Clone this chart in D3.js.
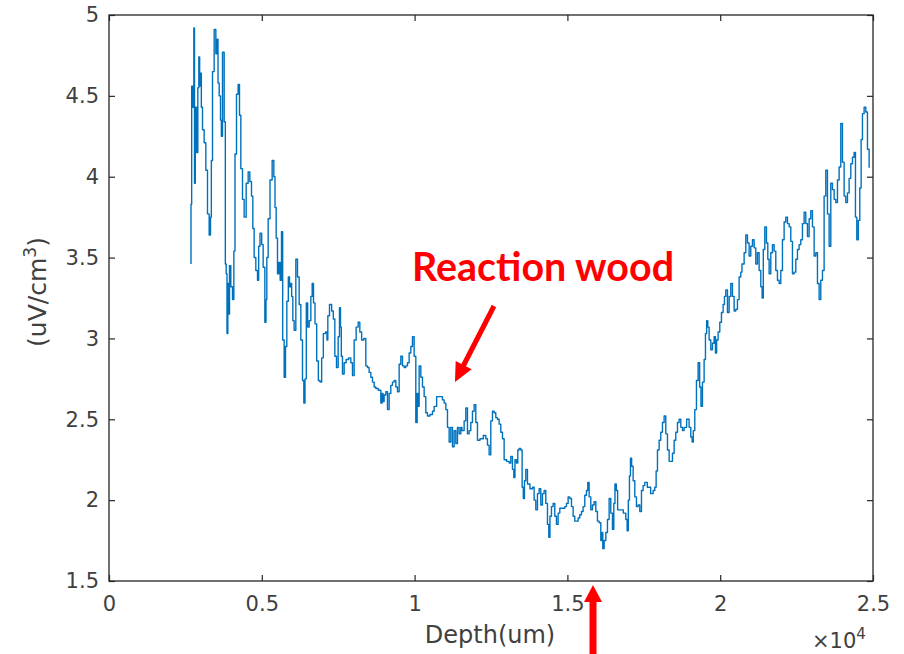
<!DOCTYPE html>
<html><head><meta charset="utf-8">
<script src="https://cdn.jsdelivr.net/npm/d3@7"></script>
<style>body{margin:0;background:#fff}svg{display:block}</style>
</head><body>
<svg id="c" width="904" height="654"></svg>
<script>
// Depth in um
const depth = [
2683,2683,2727,2760,2792,2803,2847,2890,2923,2956,2978,3011,3032,3087,3141,3196,3250,3305,3338,3360,
3414,3469,3523,3556,3578,3632,3665,3687,3741,3796,3818,3850,3872,3905,3927,3959,4014,4069,4101,4145,
4199,4253,4287,4341,4396,4450,4527,4581,4636,4690,4723,4777,4832,4887,4908,4974,5017,5072,5127,5148,
5181,5236,5301,5377,5410,5454,5487,5541,5574,5628,5661,5705,5759,5792,5846,5890,5923,5955,5999,6032,
6086,6141,6195,6250,6304,6359,6392,6435,6479,6523,6577,6632,6665,6719,6763,6828,6872,6937,6981,7046,
7122,7144,7177,7253,7318,7362,7417,7471,7526,7558,7591,7613,7667,7722,7798,7886,7940,7995,8049,8126,
8180,8235,8300,8376,8431,8486,8540,8595,8649,8704,8758,8867,8922,8955,8976,9031,9085,9140,9194,9249,
9303,9358,9413,9467,9522,9576,9631,9685,9740,9794,9849,9903,9958,10012,10067,10100,10122,10176,10231,10285,
10340,10394,10449,10558,10612,10667,10776,10885,10940,10994,11049,11103,11158,11212,11267,11321,11376,11430,
11485,11539,11561,11594,11648,11703,11757,11812,11866,11921,11975,12030,12084,12194,12303,12357,12412,12466,12521,12575,
12630,12684,12739,12793,12848,12903,12957,13066,13121,13175,13230,13262,13306,13361,13393,13448,13502,13535,13579,13611,
13666,13720,13830,13884,13939,13993,14048,14102,14157,14211,14266,14320,14375,14408,14451,14506,14560,14615,14669,14724,
14779,14888,14942,14997,15051,15106,15160,15215,15269,15324,15378,15433,15487,15542,15597,15651,15684,15738,15793,15847,
15902,15956,16011,
16066,16120,16142,16175,16229,16284,16338,16393,16447,16502,16535,16578,16622,16665,16775,16884,16938,16971,17014,17047,
17080,17124,17178,17233,17287,17342,17396,17451,17505,17560,17669,17778,17833,17887,17920,17974,18029,18083,18138,18192,
18247,18302,18356,18411,18465,18520,18574,18629,18683,18738,18792,18847,18956,19010,19065,19098,19141,19196,19250,19305,
19349,19392,19447,19501,19534,19578,19610,19665,19719,19774,19829,19861,19905,19959,20014,20068,20123,20156,20210,20265,
20319,20374,20428,20483,20537,20592,20646,
20701,20723,20756,20810,20865,20919,20974,21028,21083,21137,21192,21246,21301,21356,21388,21432,21486,21541,21574,21628,
21683,21737,21792,21846,21901,21955,22010,22064,22119,22174,22228,22283,22337,22392,22446,22501,22555,22610,22664,22719,
22773,22828,22883,22937,22992,23046,23101,23155,23210,23264,23319,23373,23428,23482,23537,23592,23646,23701,23755,23810,
23864,23919,23973,24028,24082,24137,24191,24246,24301,24355,24410,24442,24497,24540,24595,24628,24682,24737,24791,24846,
24900
];
// Signal in uV/cm^3
const signal = [
3.46,3.83,4.56,4.43,4.92,3.96,4.43,4.15,4.55,4.74,4.56,4.64,4.43,4.29,4.21,4.04,3.77,3.64,3.75,4.10,
4.65,4.91,4.76,4.85,4.58,4.50,4.35,4.25,4.77,4.34,3.46,3.40,3.03,3.34,3.15,3.45,3.32,3.24,3.54,4.14,
4.51,4.57,4.38,4.05,3.86,3.75,3.96,4.03,3.97,3.88,3.68,3.50,3.42,3.36,3.57,3.65,3.58,3.44,3.10,3.24,
3.50,3.74,3.98,4.10,4.00,3.81,3.62,3.40,3.47,3.36,3.66,2.99,2.76,2.95,3.23,3.38,3.32,3.34,3.26,3.11,
3.05,3.49,3.38,3.21,2.99,2.74,2.60,2.75,3.22,3.07,3.11,3.26,3.34,3.22,3.09,2.86,2.74,2.73,2.88,3.03,
3.04,2.99,3.14,3.21,3.17,3.12,2.89,2.82,3.01,3.19,3.07,2.89,2.78,2.85,2.87,2.88,2.85,2.77,2.99,3.07,
3.10,3.04,2.99,3.00,2.83,2.82,2.79,2.76,2.73,2.70,2.69,2.68,2.60,2.66,2.61,2.65,2.67,2.56,2.66,2.71,
2.73,2.74,2.70,2.67,2.84,2.89,2.83,2.82,2.83,2.85,2.91,2.95,3.01,2.89,2.48,2.66,2.58,2.83,2.76,2.70,
2.64,2.54,2.52,2.53,2.55,2.58,2.64,2.64,2.62,2.60,2.56,2.45,2.36,2.45,2.33,2.43,2.35,2.45,
2.41,2.45,2.43,2.43,2.49,2.57,2.41,2.43,2.48,2.55,2.59,2.48,2.37,2.38,2.40,2.38,2.34,2.28,2.49,2.55,
2.54,2.51,2.50,2.47,2.42,2.38,2.25,2.24,2.23,2.27,2.19,2.14,2.25,2.23,2.31,2.32,2.31,2.08,2.01,2.12,
2.19,2.10,2.07,2.08,2.00,1.94,2.04,2.07,1.97,2.04,2.06,1.98,1.85,1.77,1.90,1.96,1.98,1.90,1.85,1.92,
1.95,1.95,1.96,1.98,2.02,2.01,1.96,1.90,1.87,1.87,1.89,1.91,1.93,1.96,2.03,2.06,2.11,2.02,1.94,1.97,
1.99,1.93,1.87,
1.86,1.75,1.80,1.70,1.75,1.80,1.88,2.01,1.92,1.82,1.98,2.10,2.06,1.94,1.94,1.92,1.88,1.81,2.00,2.15,
2.26,2.21,2.12,2.02,1.96,1.97,1.93,2.06,2.09,2.11,2.08,2.04,2.06,2.08,2.18,2.31,2.37,2.42,2.48,2.52,
2.41,2.31,2.24,2.24,2.29,2.37,2.42,2.48,2.50,2.45,2.43,2.45,2.50,2.45,2.39,2.36,2.43,2.56,2.74,2.85,
2.70,2.58,2.73,2.87,3.03,3.11,3.07,2.99,2.93,2.97,3.01,2.91,2.99,3.04,3.10,3.16,3.21,3.26,3.30,3.16,
3.26,3.34,3.26,3.17,3.18,3.24,3.38,
3.41,3.46,3.46,3.53,3.64,3.59,3.51,3.57,3.61,3.56,3.46,3.53,3.42,3.32,3.25,3.55,3.69,3.59,3.49,3.40,
3.53,3.58,3.54,3.42,3.36,3.34,3.42,3.61,3.72,3.75,3.71,3.69,3.60,3.40,3.41,3.49,3.55,3.58,3.61,3.71,
3.78,3.71,3.63,3.74,3.79,3.69,3.51,3.53,3.34,3.24,3.36,3.42,3.88,4.04,3.77,3.57,3.96,3.92,3.86,3.84,
3.98,4.06,4.33,4.09,3.88,3.84,3.90,3.99,4.08,4.12,4.15,3.75,3.61,3.73,3.93,4.23,4.39,4.43,4.40,4.17,
4.06
];
const xTicks = [0, 5000, 10000, 15000, 20000, 25000];
const xTickLabels = ["0", "0.5", "1", "1.5", "2", "2.5"];
const yTicks = [1.5, 2, 2.5, 3, 3.5, 4, 4.5, 5];
const yTickLabels = ["1.5", "2", "2.5", "3", "3.5", "4", "4.5", "5"];
const xLabel = "Depth(um)";
const annotationText = "Reaction wood";

const svg = d3.select("#c");
const L = 109, R = 873, T = 15, B = 581;
const x = d3.scaleLinear().domain([0, 25000]).range([L, R]);
const y = d3.scaleLinear().domain([1.5, 5]).range([B, T]);

const axisColor = "#262626", textColor = "#404040";
const font = "'DejaVu Sans', sans-serif";

function styleAxis(g, showText) {
  g.select(".domain").remove();
  g.selectAll(".tick line").attr("stroke", axisColor).attr("stroke-width", 1.2);
  g.selectAll(".tick text").attr("fill", textColor).style("font-family", font).style("font-size", "21px");
  if (!showText) g.selectAll(".tick text").remove();
}

svg.append("g").attr("transform", `translate(0,${B})`)
  .call(d3.axisBottom(x).tickValues(xTicks).tickFormat((d, i) => xTickLabels[i]).tickSizeInner(-6).tickSizeOuter(0).tickPadding(15))
  .call(g => styleAxis(g, true));
svg.append("g").attr("transform", `translate(0,${T})`)
  .call(d3.axisTop(x).tickValues(xTicks).tickSizeInner(-6).tickSizeOuter(0))
  .call(g => styleAxis(g, false));
svg.append("g").attr("transform", `translate(${L},0)`)
  .call(d3.axisLeft(y).tickValues(yTicks).tickFormat((d, i) => yTickLabels[i]).tickSizeInner(-6).tickSizeOuter(0).tickPadding(10))
  .call(g => styleAxis(g, true));
svg.append("g").attr("transform", `translate(${R},0)`)
  .call(d3.axisRight(y).tickValues(yTicks).tickSizeInner(-6).tickSizeOuter(0))
  .call(g => styleAxis(g, false));

svg.append("rect").attr("x", L).attr("y", T).attr("width", R - L).attr("height", B - T)
  .attr("fill", "none").attr("stroke", axisColor).attr("stroke-width", 1.3);

// data line
const pts = d3.range(Math.min(depth.length, signal.length)).map(i => [depth[i], signal[i]]);
svg.append("path").datum(pts)
  .attr("fill", "none").attr("stroke", "#0072BD").attr("stroke-width", 1.4)
  .attr("stroke-linejoin", "round")
  .attr("d", d3.line().curve(d3.curveStep).x(d => x(d[0])).y(d => y(d[1])));

// axis labels
svg.append("text").attr("x", 490).attr("y", 643).attr("text-anchor", "middle")
  .attr("fill", textColor).style("font-family", font).style("font-size", "24px").text(xLabel);

const ex = svg.append("text").attr("x", 812).attr("y", 648)
  .attr("fill", textColor).style("font-family", font).style("font-size", "21px");
ex.append("tspan").text("×10");
ex.append("tspan").attr("dy", -9).style("font-size", "15px").text("4");

const yl = svg.append("text").attr("transform", "translate(46,292) rotate(-90)").attr("text-anchor", "middle")
  .attr("fill", textColor).style("font-family", font).style("font-size", "25px");
yl.append("tspan").text("(uV/cm");
yl.append("tspan").attr("dy", -10).style("font-size", "17px").text("3");
yl.append("tspan").attr("dy", 10).text(")");

// annotation
svg.append("text").attr("x", 412).attr("y", 281)
  .attr("fill", "#FF0000").style("font-family", "Lato, 'Open Sans', sans-serif").style("font-weight", "bold")
  .style("font-size", "40px").attr("textLength", 262).attr("lengthAdjust", "spacingAndGlyphs").text(annotationText);

function arrow(x0, y0, x1, y1, shaftW, headL, headW) {
  const dx = x1 - x0, dy = y1 - y0, len = Math.hypot(dx, dy);
  const ux = dx / len, uy = dy / len, px = -uy, py = ux;
  const bx = x1 - ux * headL, by = y1 - uy * headL;
  svg.append("line").attr("x1", x0).attr("y1", y0).attr("x2", bx + ux).attr("y2", by + uy)
    .attr("stroke", "#FF0000").attr("stroke-width", shaftW);
  svg.append("path").attr("fill", "#FF0000")
    .attr("d", `M${x1},${y1}L${bx + px * headW},${by + py * headW}L${bx - px * headW},${by - py * headW}Z`);
}
arrow(494, 306, 455, 382, 5, 19, 9);
arrow(593, 660, 593, 585, 7, 17, 9);
</script>
</body></html>
